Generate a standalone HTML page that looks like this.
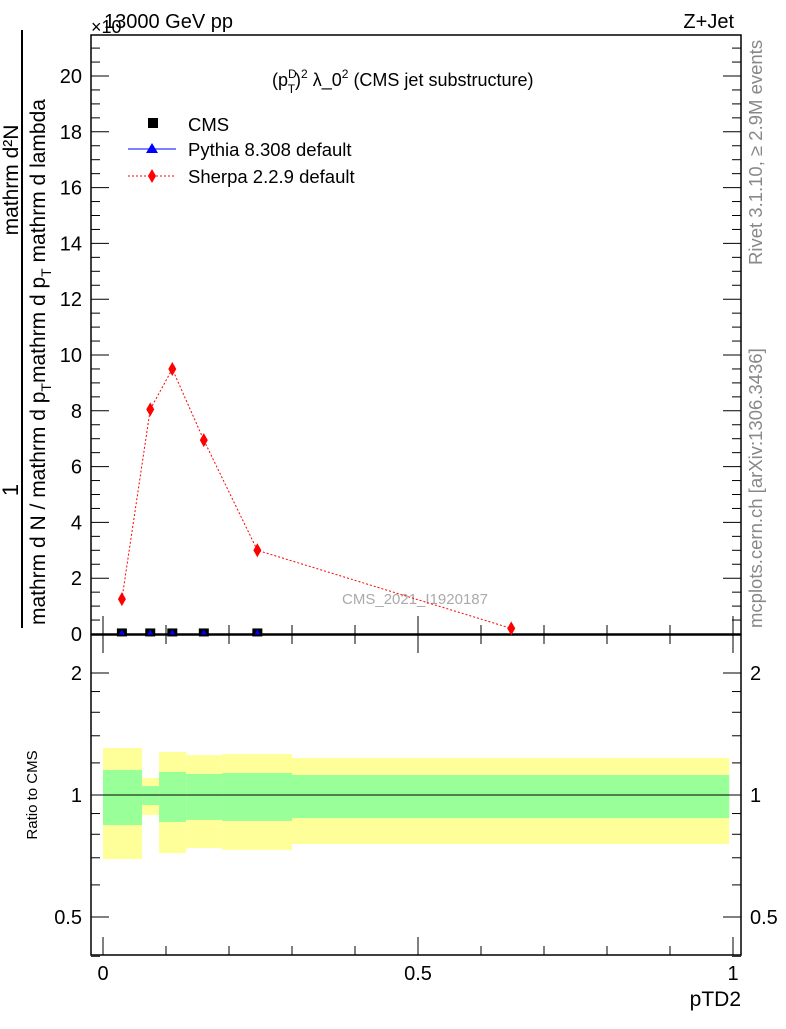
<!DOCTYPE html>
<html><head><meta charset="utf-8"><style>
body{margin:0;background:#fff}
svg{font-family:"Liberation Sans",sans-serif}
</style></head><body>
<svg id="c" width="786" height="1024" xmlns="http://www.w3.org/2000/svg">
<text x="104" y="28" font-size="20">13000 GeV pp</text>
<text x="91" y="33" font-size="18">×10</text>
<text x="734" y="28" font-size="20" text-anchor="end">Z+Jet</text>
<text x="272" y="86" font-size="18">(p<tspan font-size="12" dy="-8">D</tspan><tspan font-size="12" dx="-9" dy="15">T</tspan><tspan dy="-7">)</tspan><tspan font-size="12" dy="-8">2</tspan><tspan dy="8"> λ_0</tspan><tspan font-size="12" dy="-8">2</tspan><tspan dy="8"> (CMS jet substructure)</tspan></text>
<g>
<text transform="translate(18,490) rotate(-90)" font-size="22" text-anchor="middle">1</text>
<text transform="translate(18,180) rotate(-90)" font-size="21" text-anchor="middle">mathrm d²N</text>
<line x1="22" y1="30" x2="22" y2="628" stroke="#000" stroke-width="2"/>
<text transform="translate(45,625) rotate(-90)" font-size="21">mathrm d N / mathrm d p<tspan font-size="14" dy="6">T</tspan><tspan dy="-6">mathrm d p</tspan><tspan font-size="14" dy="6">T</tspan><tspan dy="-6"> mathrm d lambda</tspan></text>
</g>
<text transform="translate(37,795) rotate(-90)" font-size="15" text-anchor="middle">Ratio to CMS</text>
<text transform="translate(762,265) rotate(-90)" font-size="18.5" fill="#888">Rivet 3.1.10, ≥ 2.9M events</text>
<text transform="translate(762,628) rotate(-90)" font-size="18.5" fill="#888">mcplots.cern.ch [arXiv:1306.3436]</text>
<text x="415" y="604" font-size="15" fill="#aaa" text-anchor="middle">CMS_2021_I1920187</text>
<text x="741" y="1006" font-size="21" text-anchor="end">pTD2</text>
<g id="g"></g>
<g>
<rect x="148" y="118" width="10" height="10" fill="#000"/>
<text x="188" y="131" font-size="18.5">CMS</text>
<line x1="128" y1="149" x2="176" y2="149" stroke="#00f"/>
<polygon points="152,143 158,153 146,153" fill="#00f"/>
<text x="188" y="156" font-size="18.5">Pythia 8.308 default</text>
<line x1="128" y1="176" x2="176" y2="176" stroke="#f00" stroke-dasharray="2,2"/>
<polygon points="152,169 156,176 152,183 148,176" fill="#f00"/>
<text x="188" y="183" font-size="18.5">Sherpa 2.2.9 default</text>
</g>
</svg>
<script>
const binEdges=[0,0.062,0.089,0.132,0.189,0.30,0.994];
const yellowHi=[1.306,1.101,1.277,1.255,1.262,1.234];
const yellowLo=[0.695,0.893,0.719,0.740,0.732,0.757];
const greenHi=[1.153,1.052,1.14,1.127,1.133,1.12];
const greenLo=[0.843,0.945,0.858,0.868,0.863,0.877];
const sherpaX=[0.03,0.075,0.11,0.16,0.245,0.648];
const sherpaY=[1.25,8.05,9.5,6.95,3.0,0.2];
const cmsX=[0.03,0.075,0.11,0.16,0.245,0.648];
const cmsY=[0.02,0.02,0.02,0.02,0.02,0.005];
const mainTicks=[0,2,4,6,8,10,12,14,16,18,20];
const ratioTicks=[0.5,1,2];
const xTicks=[0,0.5,1];
const X=v=>103+v*630, Y=v=>634-v*27.9, R=v=>795-Math.log2(v)*122;
const g=document.getElementById('g'),NS='http://www.w3.org/2000/svg';
function el(t,a,p){const e=document.createElementNS(NS,t);for(const k in a)e.setAttribute(k,a[k]);(p||g).appendChild(e);return e;}
for(let i=0;i<binEdges.length-1;i++){
 const r=el('rect',{x:X(binEdges[i]),y:R(yellowHi[i]),width:X(binEdges[i+1])-X(binEdges[i]),height:R(yellowLo[i])-R(yellowHi[i]),fill:'#ffff99'});
 
 
 const q=el('rect',{x:X(binEdges[i]),y:R(greenHi[i]),width:X(binEdges[i+1])-X(binEdges[i]),height:R(greenLo[i])-R(greenHi[i]),fill:'#99ff99'});
 
 
}
el('line',{x1:91,y1:795,x2:741,y2:795,stroke:'#000'});
el('rect',{x:91,y:35,width:650,height:599,fill:'none',stroke:'#000','stroke-width':1.5});
el('rect',{x:91,y:635,width:650,height:320,fill:'none',stroke:'#000','stroke-width':1.5});
for(let v=0;v<=21.4;v+=0.5){const L=(v%2===0)?18:9;el('line',{x1:91,y1:Y(v),x2:91+L,y2:Y(v),stroke:'#000'});el('line',{x1:741,y1:Y(v),x2:741-L,y2:Y(v),stroke:'#000'});}
mainTicks.forEach(v=>{const t=el('text',{x:82,y:Y(v)+7,'font-size':20,'text-anchor':'end'});t.textContent=v;});
[0.4,0.5,0.6,0.7,0.8,0.9,1,1.2,1.4,1.6,1.8,2].forEach(v=>{const L=ratioTicks.includes(v)?18:9;el('line',{x1:91,y1:R(v),x2:91+L,y2:R(v),stroke:'#000'});el('line',{x1:741,y1:R(v),x2:741-L,y2:R(v),stroke:'#000'});});
ratioTicks.forEach(v=>{[82,750].forEach((x,j)=>{const t=el('text',{x:x,y:R(v)+7,'font-size':20,'text-anchor':j?'start':'end'});t.textContent=v;});});
for(let v=0;v<=1.001;v+=0.1){const big=Math.abs(v*2-Math.round(v*2))<1e-6;const L=big?18:9;[[634,-1],[955,-1],[635,1]].forEach(([y,s])=>el('line',{x1:X(v),y1:y,x2:X(v),y2:y+s*L,stroke:'#000'}));}
xTicks.forEach(v=>{const t=el('text',{x:X(v),y:980,'font-size':20,'text-anchor':'middle'});t.textContent=v;});
const pl=el('polyline',{points:sherpaX.map((x,i)=>X(x)+','+Y(sherpaY[i])).join(' '),fill:'none',stroke:'#f00','stroke-dasharray':'2,2'});


sherpaX.forEach((x,i)=>{const p=el('polygon',{points:`${X(x)},${Y(sherpaY[i])-7} ${X(x)+4},${Y(sherpaY[i])} ${X(x)},${Y(sherpaY[i])+7} ${X(x)-4},${Y(sherpaY[i])}`,fill:'#f00'});});
cmsX.slice(0,5).forEach((x,i)=>{const s=el('rect',{x:X(x)-5,y:Y(cmsY[i])-5,width:10,height:8,fill:'#000'});
 const t=el('polygon',{points:`${X(x)},${Y(cmsY[i])-4} ${X(x)+3},${Y(cmsY[i])+1} ${X(x)-3},${Y(cmsY[i])+1}`,fill:'#00f'});});
</script>
</body></html>
